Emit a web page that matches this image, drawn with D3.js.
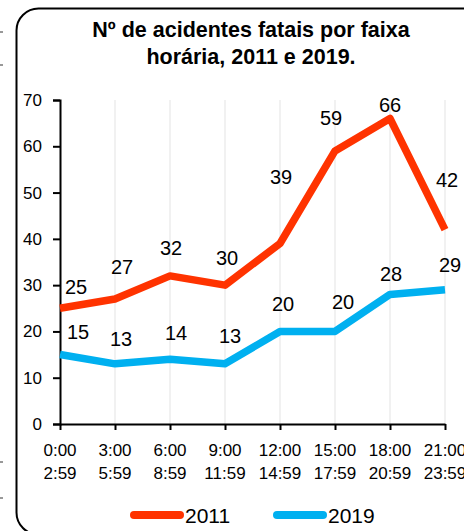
<!DOCTYPE html>
<html>
<head>
<meta charset="utf-8">
<script src="https://cdn.jsdelivr.net/npm/d3@7"></script>
<style>
html, body { margin: 0; padding: 0; background: #fff; overflow: hidden; }
svg { display: block; }
</style>
</head>
<body>
<script>
// ---- Data ----
const categoriesTop = ["0:00", "3:00", "6:00", "9:00", "12:00", "15:00", "18:00", "21:00"];
const categoriesBottom = ["2:59", "5:59", "8:59", "11:59", "14:59", "17:59", "20:59", "23:59"];
const values2011 = [25, 27, 32, 30, 39, 59, 66, 42];
const values2019 = [15, 13, 14, 13, 20, 20, 28, 29];
const yTicks = [0, 10, 20, 30, 40, 50, 60, 70];
const seriesNames = ["2011", "2019"];
const titleLines = ["Nº de acidentes fatais por faixa", "horária, 2011 e 2019."];

// label offsets (pixels relative to point)
const labelDx2011 = [16, 7, 1, 2, 1, -4, 0, 2];
const labelDy2011 = [-21, -32, -28, -27, -66, -33, -14, -50];
const labelDx2019 = [18, 6, 6, 5, 3, 8, 1, 5];
const labelDy2019 = [-23, -25, -26, -28, -27, -29, -20, -25];

const W = 464, H = 531;
const colors = ["#FF3300", "#00B0F0"];
const font = "'Liberation Sans', Arial, sans-serif";

const svg = d3.select("body").append("svg").attr("width", W).attr("height", H);

// stray fragments at left edge
[32, 65, 462, 498].forEach(y => {
  svg.append("line").attr("x1", 0).attr("x2", 3).attr("y1", y).attr("y2", y)
    .attr("stroke", "#333").attr("stroke-width", 1);
});

// chart border
svg.append("rect").attr("x", 16.5).attr("y", 8.5).attr("width", 480).attr("height", 526)
  .attr("rx", 22).attr("ry", 22).attr("fill", "#fff").attr("stroke", "#000").attr("stroke-width", 2);

// title
const title = svg.append("text").attr("text-anchor", "middle")
  .attr("font-family", font).attr("font-weight", "bold").attr("font-size", 21.5).attr("fill", "#000");
titleLines.forEach((t, i) => {
  title.append("tspan").attr("x", 251).attr("y", 37 + i * 27).text(t);
});

const x = d3.scalePoint().domain(d3.range(categoriesTop.length)).range([60, 445]);
const y = d3.scaleLinear().domain([0, 70]).range([424, 100]);

// vertical gridlines
svg.append("g").selectAll("line").data(d3.range(1, categoriesTop.length)).join("line")
  .attr("x1", d => x(d)).attr("x2", d => x(d)).attr("y1", y(70)).attr("y2", y(0))
  .attr("stroke", "#e3e3e3").attr("stroke-width", 1);

// y axis
const yAxis = svg.append("g").attr("transform", `translate(${x(0)},0)`)
  .call(d3.axisLeft(y).tickValues(yTicks).tickSize(7).tickPadding(11));
yAxis.select(".domain").attr("stroke", "#000").attr("stroke-width", 2);
yAxis.selectAll(".tick line").attr("stroke", "#000").attr("stroke-width", 2);
yAxis.selectAll(".tick text").attr("font-family", font).attr("font-size", 17).attr("fill", "#000");

// x axis
const xAxis = svg.append("g").attr("transform", `translate(0,${y(0)})`)
  .call(d3.axisBottom(x).tickSize(6).tickSizeOuter(0).tickFormat(() => ""));
xAxis.select(".domain").attr("stroke", "#000").attr("stroke-width", 2);
xAxis.selectAll(".tick line").attr("stroke", "#000").attr("stroke-width", 2);
xAxis.selectAll(".tick text").remove();
const xl = svg.append("g").attr("font-family", font).attr("font-size", 17).attr("fill", "#000").attr("text-anchor", "middle");
categoriesTop.forEach((c, i) => {
  xl.append("text").attr("x", x(i)).attr("y", 456).text(c);
  xl.append("text").attr("x", x(i)).attr("y", 479).text(categoriesBottom[i]);
});

// lines
const line = d3.line().x((d, i) => x(i)).y(d => y(d));
[values2011, values2019].forEach((vals, s) => {
  svg.append("path").datum(vals).attr("d", line).attr("fill", "none")
    .attr("stroke", colors[s]).attr("stroke-width", 7.5).attr("stroke-linejoin", "round");
});

// data labels
const drawLabels = (vals, dxs, dys) => {
  svg.append("g").selectAll("text").data(vals).join("text")
    .attr("x", (d, i) => x(i) + dxs[i]).attr("y", (d, i) => y(d) + dys[i])
    .attr("text-anchor", "middle").attr("dominant-baseline", "central")
    .attr("font-family", font).attr("font-size", 20).attr("fill", "#000")
    .text(d => d);
};
drawLabels(values2011, labelDx2011, labelDy2011);
drawLabels(values2019, labelDx2019, labelDy2019);

// legend
const legendX = [130, 273];
seriesNames.forEach((n, s) => {
  svg.append("line").attr("x1", legendX[s] + 4).attr("x2", legendX[s] + 50).attr("y1", 515).attr("y2", 515)
    .attr("stroke", colors[s]).attr("stroke-width", 8).attr("stroke-linecap", "round");
  svg.append("text").attr("x", legendX[s] + 55).attr("y", 522.5)
    .attr("font-family", font).attr("font-size", 21).attr("fill", "#000").text(n);
});
</script>
</body>
</html>
